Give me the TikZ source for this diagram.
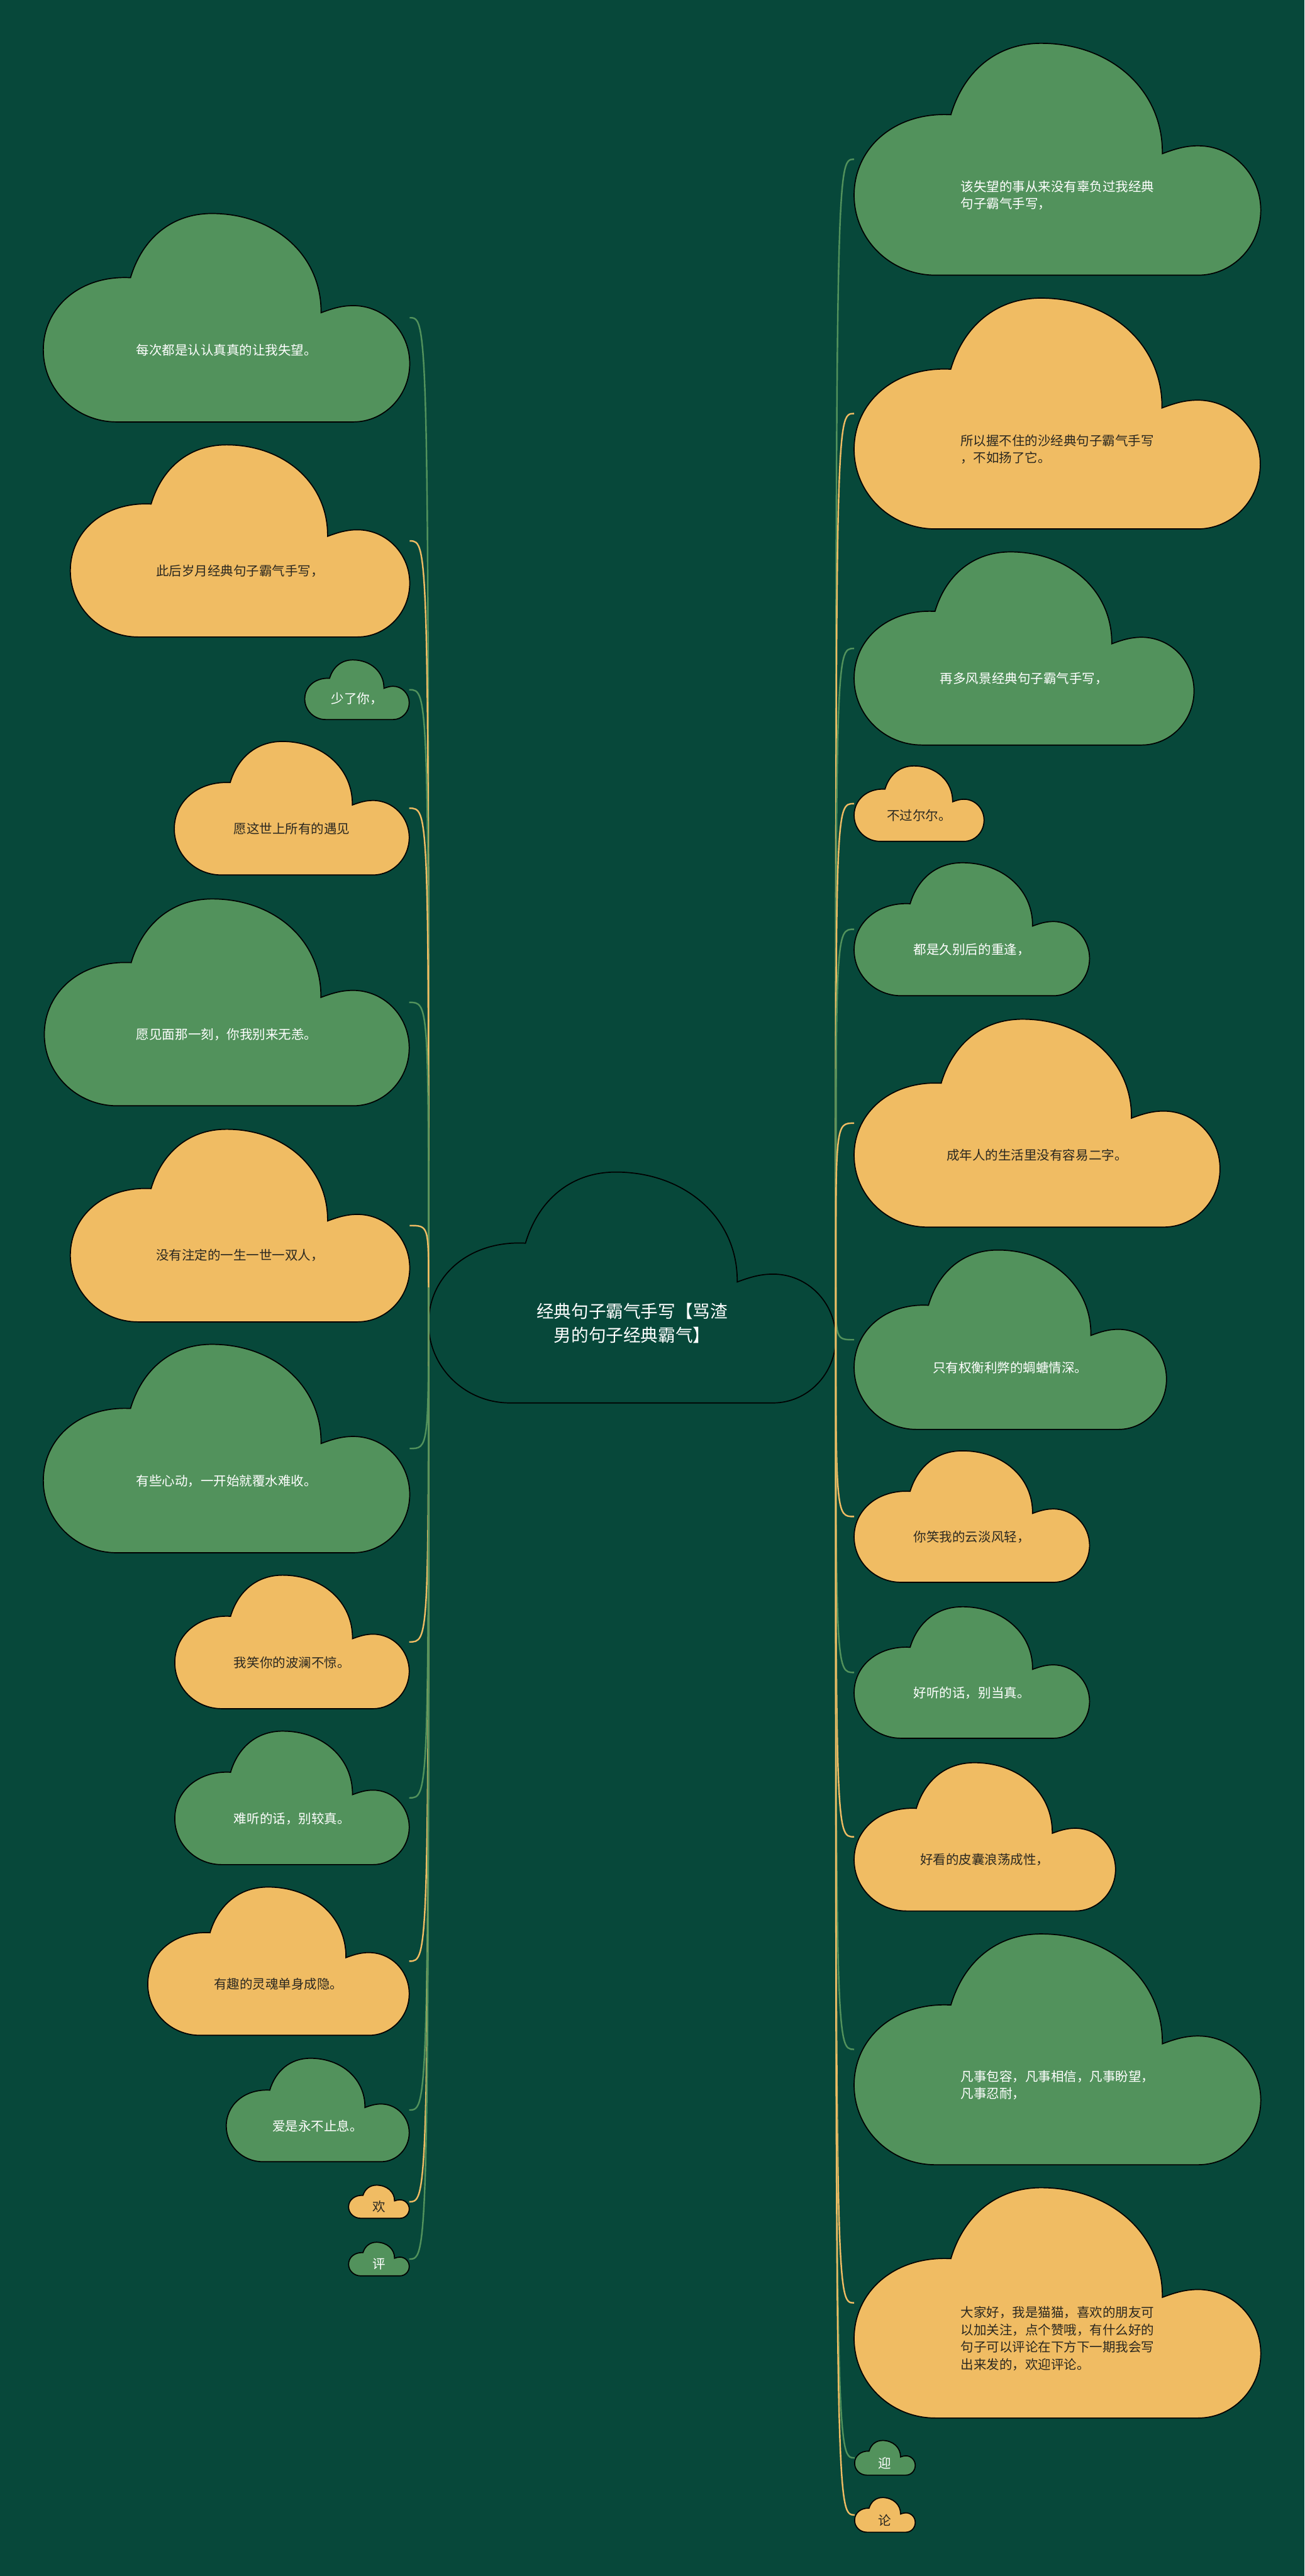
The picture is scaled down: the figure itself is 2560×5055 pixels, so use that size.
\documentclass[tikz,border=0pt]{standalone}
\usepackage{fontspec}
\newfontfamily\cjk{Noto Sans CJK SC}
\definecolor{bg}{HTML}{07483A}
\definecolor{leaf}{HTML}{52925C}
\definecolor{sand}{HTML}{F0BC63}
\definecolor{ink}{HTML}{2B2820}

\tikzset{
  every node/.style={font=\cjk\fontsize{7.2}{9.7}\selectfont, align=left, inner sep=0pt},
  leaf cloud/.style={fill=leaf},
  leaf text/.style={text=white},
  sand cloud/.style={fill=sand},
  sand text/.style={text=ink},
  root cloud/.style={fill=bg},
  root text/.style={text=white, align=center, font=\cjk\fontsize{9.7}{13.4}\selectfont},
  twig/.style={line width=0.85pt},
}

% cloud: #1 name, #2 kind, #3 left, #4 top, #5 right, #6 bottom, #7 text
\newcommand{\cloud}[7]{%
  \begin{scope}[shift={(#3,#4)}, xscale={#5-#3}, yscale={#6-#4}]
    \draw[#2 cloud, line width=0.6pt] (0.2,1) .. controls (0.0895,1) and (0,0.846) .. (0,0.655)
      .. controls (0,0.45) and (0.1,0.295) .. (0.238,0.308)
      .. controls (0.27,0.12) and (0.35,0) .. (0.46,0)
      .. controls (0.63,0) and (0.76,0.2) .. (0.758,0.476)
      .. controls (0.79,0.455) and (0.815,0.442) .. (0.846,0.442)
      .. controls (0.931,0.442) and (1,0.566) .. (1,0.72)
      .. controls (1,0.874) and (0.931,1) .. (0.846,1) -- cycle;
  \end{scope}
  \coordinate (#1-l) at (#3,{(#4+#6)/2});
  \coordinate (#1-r) at (#5,{(#4+#6)/2});
  \node[#2 text] (#1) at ({(#3+#5)/2},{#4+0.655*(#6-#4)}) {#7};
}

\begin{document}
\begin{tikzpicture}[x=0.01cm, y=-0.01cm]
  \fill[bg] (0,0) rectangle (2560,5055);
  \useasboundingbox (0,0) rectangle (2560,5055);

  \cloud{root}{root}{841}{2300}{1640}{2753}{经典句子霸气手写【骂渣\\男的句子经典霸气】}

  % right side
  \cloud{r1}{leaf}{1676}{85}{2474}{540}{该失望的事从来没有辜负过我经典\\句子霸气手写，}
  \cloud{r2}{sand}{1676}{585}{2473}{1038}{所以握不住的沙经典句子霸气手写\\，不如扬了它。}
  \cloud{r3}{leaf}{1676}{1083}{2343}{1462}{再多风景经典句子霸气手写，}
  \cloud{r4}{sand}{1676}{1503}{1931}{1651}{不过尔尔。}
  \cloud{r5}{leaf}{1676}{1693}{2138}{1954}{都是久别后的重逢，}
  \cloud{r6}{sand}{1676}{2000}{2394}{2408}{成年人的生活里没有容易二字。}
  \cloud{r7}{leaf}{1676}{2453}{2289}{2805}{只有权衡利弊的蜩螗情深。}
  \cloud{r8}{sand}{1676}{2847}{2138}{3105}{你笑我的云淡风轻，}
  \cloud{r9}{leaf}{1676}{3153}{2138}{3411}{好听的话，别当真。}
  \cloud{r10}{sand}{1676}{3459}{2189}{3750}{好看的皮囊浪荡成性，}
  \cloud{r11}{leaf}{1676}{3795}{2474}{4248}{凡事包容，凡事相信，凡事盼望，\\凡事忍耐，}
  \cloud{r12}{sand}{1676}{4293}{2474}{4745}{大家好，我是猫猫，喜欢的朋友可\\以加关注，点个赞哦，有什么好的\\句子可以评论在下方下一期我会写\\出来发的，欢迎评论。}
  \cloud{r13}{leaf}{1677}{4789}{1796}{4857}{迎}
  \cloud{r14}{sand}{1677}{4901}{1796}{4969}{论}

  % left side
  \cloud{l1}{leaf}{85}{419}{804}{828}{每次都是认认真真的让我失望。}
  \cloud{l2}{sand}{138}{873}{804}{1250}{此后岁月经典句子霸气手写，}
  \cloud{l3}{leaf}{598}{1295}{803}{1412}{少了你，}
  \cloud{l4}{sand}{342}{1455}{803}{1717}{愿这世上所有的遇见}
  \cloud{l5}{leaf}{87}{1764}{803}{2170}{愿见面那一刻，你我别来无恙。}
  \cloud{l6}{sand}{138}{2216}{804}{2594}{没有注定的一生一世一双人，}
  \cloud{l7}{leaf}{85}{2638}{804}{3047}{有些心动，一开始就覆水难收。}
  \cloud{l8}{sand}{343}{3091}{803}{3353}{我笑你的波澜不惊。}
  \cloud{l9}{leaf}{343}{3397}{803}{3659}{难听的话，别较真。}
  \cloud{l10}{sand}{290}{3703}{803}{3994}{有趣的灵魂单身成隐。}
  \cloud{l11}{leaf}{444}{4039}{803}{4242}{爱是永不止息。}
  \cloud{l12}{sand}{684}{4288}{803}{4353}{欢}
  \cloud{l13}{leaf}{684}{4400}{803}{4466}{评}

  % connectors
  \foreach \n/\c in {r1/leaf, r2/sand, r3/leaf, r4/sand, r5/leaf, r6/sand, r7/leaf,
                     r8/sand, r9/leaf, r10/sand, r11/leaf, r12/sand, r13/leaf, r14/sand}
    \draw[twig, draw=\c] (root-r) .. controls (root-r |- \n-l) .. (\n-l);
  \foreach \n/\c in {l1/leaf, l2/sand, l3/leaf, l4/sand, l5/leaf, l6/sand, l7/leaf,
                     l8/sand, l9/leaf, l10/sand, l11/leaf, l12/sand, l13/leaf}
    \draw[twig, draw=\c] (root-l) .. controls (root-l |- \n-r) .. (\n-r);
\end{tikzpicture}
\end{document}
